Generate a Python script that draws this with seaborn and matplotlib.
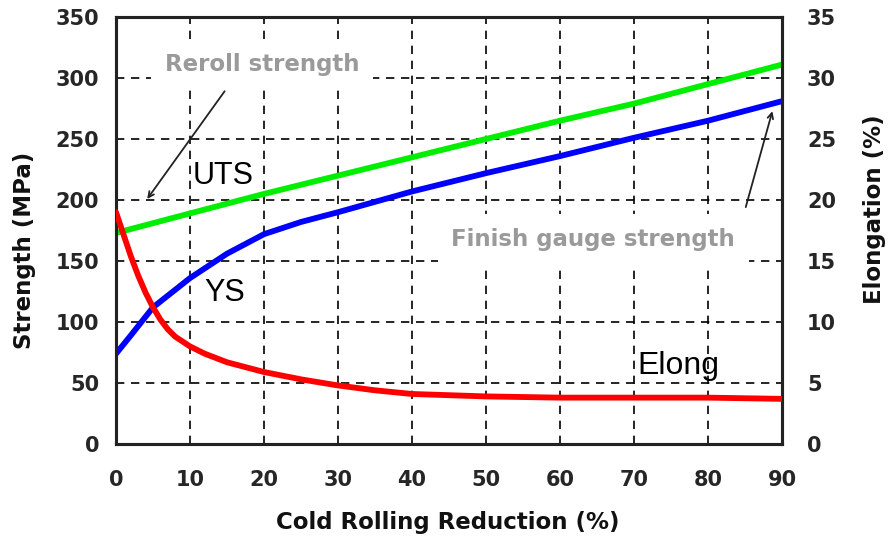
import matplotlib
matplotlib.use("Agg")
import matplotlib.pyplot as plt
import seaborn as sns
import pandas as pd

sns.set_style("white")
plt.rcParams['font.family'] = ['DejaVu Sans']

# ---- data ----
uts_x = [0, 10, 20, 30, 40, 50, 60, 70, 80, 90]
uts = [173, 189, 205, 220, 235, 250, 265, 279, 295, 311]

ys_x = [0, 2, 5, 10, 15, 20, 25, 30, 40, 50, 60, 70, 80, 90]
ys = [74, 89, 112, 136, 156, 172, 182, 190, 207, 222, 236, 251, 265, 281]

elong_x = [0, 1, 2, 3, 4, 5, 6, 7, 8, 9, 10, 12, 15, 20, 25, 30, 35, 40, 45, 50, 60, 70, 80, 90]
elong = [19.0, 17.2, 15.4, 13.8, 12.4, 11.2, 10.2, 9.4, 8.8, 8.4, 8.0, 7.4, 6.7, 5.9, 5.3,
         4.8, 4.4, 4.1, 4.0, 3.9, 3.8, 3.8, 3.8, 3.7]

x_ticks = [0, 10, 20, 30, 40, 50, 60, 70, 80, 90]
y_ticks = [0, 50, 100, 150, 200, 250, 300, 350]
y2_ticks = [0, 5, 10, 15, 20, 25, 30, 35]

df_uts = pd.DataFrame({"x": uts_x, "y": uts})
df_ys = pd.DataFrame({"x": ys_x, "y": ys})
df_el = pd.DataFrame({"x": elong_x, "y": elong})

fig = plt.figure(figsize=(8.92, 5.37), dpi=100)
ax = fig.add_axes([116/892, 1-444/537, (782-116)/892, (444-17)/537])
ax2 = ax.twinx()

ax.set_xlim(0, 90)
ax.set_ylim(0, 350)
ax2.set_ylim(0, 35)

# grid
for xv in x_ticks[1:-1]:
    ax.axvline(xv, color='black', lw=1.2, ls=(0, (5, 4)), zorder=1)
for yv in y_ticks[1:-1]:
    ax.axhline(yv, color='black', lw=1.2, ls=(0, (5, 4)), zorder=1)

sns.lineplot(data=df_uts, x="x", y="y", ax=ax, color='#00ee00', lw=4.2, zorder=3)
sns.lineplot(data=df_ys, x="x", y="y", ax=ax, color='#0000ff', lw=4.2, zorder=3)
sns.lineplot(data=df_el, x="x", y="y", ax=ax2, color='#ff0000', lw=4.2, zorder=3)

tick_font = dict(fontsize=15, fontweight='bold')
ax.set_xticks(x_ticks)
ax.set_xticklabels([str(v) for v in x_ticks], **tick_font)
ax.set_yticks(y_ticks)
ax.set_yticklabels([str(v) for v in y_ticks], **tick_font)
ax2.set_yticks(y2_ticks)
ax2.set_yticklabels([str(v) for v in y2_ticks], **tick_font)
ax.tick_params(axis='x', length=0, pad=19)
ax.tick_params(axis='y', length=0, pad=12)
ax2.tick_params(axis='y', length=0, pad=18)

ax.set_xlabel("")
ax.set_ylabel("")
ax2.set_xlabel("")
ax2.set_ylabel("")

for a in (ax, ax2):
    for s in a.spines.values():
        s.set_color('#222222')
        s.set_linewidth(2.2)
        s.set_visible(True)

lab_kw = dict(fontsize=16.5, fontweight='bold', color='#111111')
fig.text(448/892, 1-523/537, "Cold Rolling Reduction (%)", ha='center', va='center', **lab_kw)
fig.text(25/892, 1-250/537, "Strength (MPa)", ha='center', va='center', rotation=90, **lab_kw)
fig.text(875/892, 1-209/537, "Elongation (%)", ha='center', va='center', rotation=90, **lab_kw)

# annotations
lab_font = dict(fontsize=22, family=['Liberation Sans', 'DejaVu Sans'], color='black')
ax.text(10.3, 220, "UTS", ha='left', va='center', zorder=5, **lab_font)
ax.text(12.0, 124, "YS", ha='left', va='center', zorder=5, **lab_font)
ax.text(70.5, 64, "Elong", ha='left', va='center', fontsize=23,
        family=['Liberation Sans', 'DejaVu Sans'], color='black', zorder=5)

gray = '#9a9a9a'
box = dict(boxstyle='square,pad=0.6', fc='white', ec='none')
ax.text(19.7, 311, "Reroll strength", ha='center', va='center', fontsize=16.5,
        fontweight='bold', color=gray, zorder=2, bbox=box)
ax.text(64.5, 168, "Finish gauge strength", ha='center', va='center', fontsize=16.5,
        fontweight='bold', color=gray, zorder=2, bbox=box)

ax.annotate("", xy=(4.0, 199), xytext=(14.9, 291),
            arrowprops=dict(arrowstyle='->', color='#222222', lw=1.3), zorder=6)
ax.annotate("", xy=(88.8, 275), xytext=(85.0, 192),
            arrowprops=dict(arrowstyle='->', color='#222222', lw=1.3), zorder=6)

fig.savefig("out.png", dpi=100)
